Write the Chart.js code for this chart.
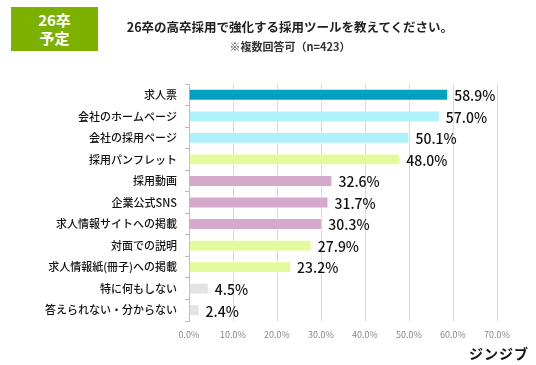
<!DOCTYPE html>
<html lang="ja">
<head>
<meta charset="utf-8">
<script src="https://cdn.jsdelivr.net/npm/chart.js@4"></script>
<style>
    html, body { margin: 0; padding: 0; background: #fff; }
    body { width: 536px; height: 365px; position: relative; overflow: hidden; font-family: "Noto Sans CJK JP", "Noto Sans", sans-serif; }
    #wrap { position: absolute; left: 0; top: 0; width: 536px; height: 365px; }
    .badge { position: absolute; left: 11px; top: 7px; width: 87px; height: 44px; background: #7cb100; color: #fff; font-weight: bold; font-size: 15px; line-height: 18px; text-align: center; padding-top: 4px; box-sizing: border-box; }
    .title { position: absolute; left: 100px; width: 380px; top: 17px; text-align: center; font-size: 12.5px; font-weight: bold; color: #222; }
    .sub { position: absolute; left: 100px; width: 380px; top: 38px; text-align: center; font-size: 11px; font-weight: bold; color: #333; }
    .brand { position: absolute; right: 7px; top: 343px; font-size: 14px; font-weight: bold; color: #111; letter-spacing: 1px; }
</style>
</head>
<body>
<div id="wrap"><canvas id="chart" width="536" height="365"></canvas></div>
<div class="badge">26卒<br>予定</div>
<div class="title">26卒の高卒採用で強化する採用ツールを教えてください。</div>
<div class="sub">※複数回答可（n=423）</div>
<div class="brand">ジンジブ</div>
<script>
// Chart data
const categories = [
    "求人票", "会社のホームページ", "会社の採用ページ", "採用パンフレット", "採用動画",
    "企業公式SNS", "求人情報サイトへの掲載", "対面での説明", "求人情報紙(冊子)への掲載",
    "特に何もしない", "答えられない・分からない"
];
const values = [58.9, 57.0, 50.1, 48.0, 32.6, 31.7, 30.3, 27.9, 23.2, 4.5, 2.4];
const xTicks = [0, 10, 20, 30, 40, 50, 60, 70];

const barColors = [
    "#00a0c0", "#aef0fc", "#aef0fc", "#e3fb9a", "#d5a9cc", "#d5a9cc",
    "#d5a9cc", "#e3fb9a", "#e3fb9a", "#e3e3e3", "#e3e3e3"
];

const FONT = '"Noto Sans CJK JP", "Noto Sans", sans-serif';

// value labels at the bar ends
const valueLabels = {
    id: 'valueLabels',
    afterDatasetsDraw(chart) {
        const { ctx } = chart;
        const meta = chart.getDatasetMeta(0);
        ctx.save();
        ctx.font = '500 14px ' + FONT;
        ctx.fillStyle = '#111';
        ctx.textAlign = 'left';
        ctx.textBaseline = 'middle';
        meta.data.forEach((bar, i) => {
            ctx.fillText(values[i].toFixed(1) + '%', bar.x + 6, bar.y + 1);
        });
        ctx.restore();
    }
};

new Chart(document.getElementById('chart'), {
    type: 'bar',
    data: {
        labels: categories,
        datasets: [{
            data: values,
            backgroundColor: barColors,
            borderColor: 'rgba(255,255,255,0.6)',
            borderWidth: 1,
            barPercentage: 0.55,
            categoryPercentage: 1
        }]
    },
    options: {
        indexAxis: 'y',
        responsive: false,
        animation: false,
        layout: { padding: { left: 0, right: 39, top: 84, bottom: 22 } },
        plugins: { legend: { display: false }, tooltip: { enabled: false } },
        scales: {
            x: {
                min: 0,
                max: 70,
                afterBuildTicks(scale) { scale.ticks = xTicks.map(v => ({ value: v })); },
                afterFit(scale) { scale.height = 22; },
                grid: { color: '#d9d9d9', lineWidth: 1, drawTicks: false },
                border: { display: false },
                ticks: {
                    padding: 8,
                    color: '#888',
                    font: { family: FONT, size: 9 },
                    callback: v => v.toFixed(1) + '%'
                }
            },
            y: {
                afterFit(scale) { scale.width = 189; },
                grid: { display: true, drawOnChartArea: false, offset: true, tickLength: 4, color: '#bbb' },
                border: { display: true, color: '#bbb' },
                ticks: {
                    padding: 8,
                    color: '#111',
                    font: { family: FONT, size: 11, weight: '500' }
                }
            }
        }
    },
    plugins: [valueLabels]
});
</script>
</body>
</html>
